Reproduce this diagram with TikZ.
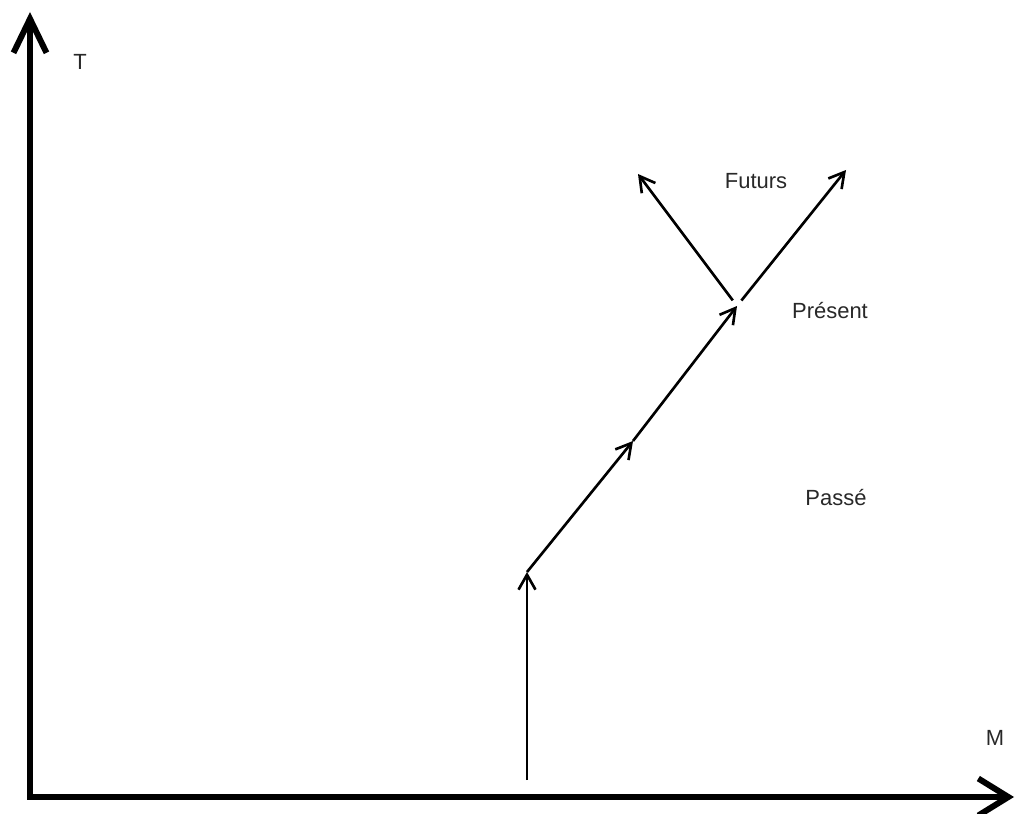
\documentclass[tikz,border=0pt]{standalone}
\usepackage{fontspec}
\setmainfont{Liberation Sans}
\usepackage{tikz}
\usetikzlibrary{arrows.meta}
\definecolor{inkgray}{RGB}{40,40,40}

\begin{document}
\begin{tikzpicture}[
    x=0.02cm, y=-0.02cm,
    % Node styles
    label/.style={inner sep=0pt, text=inkgray, font=\fontsize{12.5}{15}\selectfont},
    % Edge styles
    axis/.style={draw=black, line width=3.4pt, line join=miter,
        {Straight Barb[length=0.68cm, width=0.66cm]}-{Straight Barb[length=0.6cm, width=0.74cm]}},
    edge/.style={draw=black, line width=1.5pt, -{Straight Barb[length=0.3cm, width=0.34cm]}}
]
\useasboundingbox (0,0) rectangle (1018,814);

% Axes
\coordinate (ytop) at (30,12);
\coordinate (origin) at (30,797);
\coordinate (xend) at (1014,797);
\node[label] (T) at (80,62) {T};
\node[label] (M) at (995,738) {M};

% World line
\coordinate (base) at (527,780);
\coordinate (k1) at (527,572);
\coordinate (k2) at (633,441);
\coordinate (now) at (737,306);
\coordinate (futl) at (638,174);
\coordinate (futr) at (846,170);

% Labels
\node[label] (futurs) at (756,181) {Futurs};
\node[label] (present) at (830,311) {Présent};
\node[label] (passe) at (836,498) {Passé};

% Draw all edges
\draw[axis] (ytop) -- (origin) -- (xend);

\draw[edge] (base) -- (k1);
\draw[edge] (k1) -- (k2);
\draw[edge] (k2) -- (now);

\draw[edge, shorten <=4pt] (now) -- (futr);
\draw[edge, shorten <=4pt] (now) -- (futl);

\end{tikzpicture}
\end{document}
